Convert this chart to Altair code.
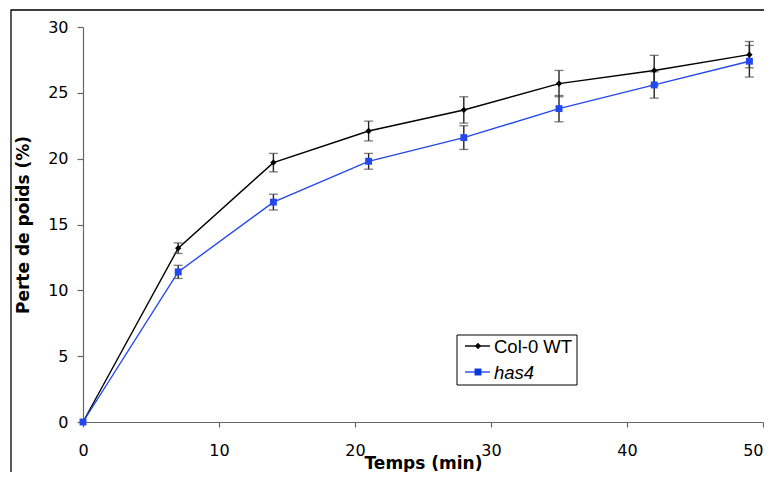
import altair as alt
import pandas as pd

time = [0, 7, 14, 21, 28, 35, 42, 49]
wt = [0, 13.2, 19.7, 22.1, 23.7, 25.7, 26.7, 27.9]
wt_err = [0, 0.4, 0.7, 0.75, 1.0, 1.0, 1.15, 1.0]
has4 = [0, 11.4, 16.7, 19.8, 21.6, 23.8, 25.6, 27.4]
has4_err = [0, 0.5, 0.6, 0.6, 0.9, 1.0, 1.0, 1.2]
series = ["Col-0 WT", "has4"]
colors = ["#000000", "#2448f0"]
marker_colors = ["#000000", "#0a36dc"]
shapes = ["diamond", "square"]

rows = []
for s, vals, errs in [(series[0], wt, wt_err), (series[1], has4, has4_err)]:
    for t, v, e in zip(time, vals, errs):
        rows.append({"t": t, "v": v, "lo": v - e, "hi": v + e, "s": s})
df = pd.DataFrame(rows)

W, H = 680, 395
xs = alt.Scale(domain=[0, 50], nice=False)
ys = alt.Scale(domain=[0, 30], nice=False)

base = alt.Chart(df)

x_axis = alt.Axis(values=[0, 10, 20, 30, 40, 50], title="Temps (min)", labelFontSize=16,
                  titleFontSize=17, titleFontWeight="bold", tickSize=5, labelPadding=15,
                  labelFlush=False,
                  labelAlign={"condition": {"test": "datum.value >= 50", "value": "right"},
                              "value": "center"},
                  titleBaseline="bottom", titleY=50,
                  labelFont="DejaVu Sans", titleFont="DejaVu Sans")
y_axis = alt.Axis(values=[0, 5, 10, 15, 20, 25, 30], title="Perte de poids (%)", labelFontSize=16,
                  titleFontSize=17, titleFontWeight="bold", tickSize=6, labelPadding=9,
                  titlePadding=15, labelFlush=False, labelFont="DejaVu Sans", titleFont="DejaVu Sans")

color_scale = alt.Scale(domain=series, range=colors)

lines = base.mark_line(strokeWidth=1.4).encode(
    x=alt.X("t:Q", scale=xs, axis=x_axis),
    y=alt.Y("v:Q", scale=ys, axis=y_axis),
    color=alt.Color("s:N", scale=color_scale, legend=None),
)

err = base.transform_filter("datum.t > 0")
rules = err.mark_rule(color="#222", strokeWidth=1.4).encode(
    x="t:Q", y="lo:Q", y2="hi:Q"
)
cap_lo = err.mark_tick(color="#444", orient="horizontal", size=9, thickness=1.3).encode(
    x="t:Q", y="lo:Q"
)
cap_hi = err.mark_tick(color="#444", orient="horizontal", size=9, thickness=1.3).encode(
    x="t:Q", y="hi:Q"
)

points = base.mark_point(filled=True, opacity=1).encode(
    x="t:Q", y="v:Q",
    color=alt.Color("s:N", scale=alt.Scale(domain=series, range=marker_colors), legend=None),
    shape=alt.Shape("s:N", scale=alt.Scale(domain=series, range=shapes), legend=None),
    size=alt.Size("s:N", scale=alt.Scale(domain=series, range=[40, 48]), legend=None),
)

# custom legend
one = pd.DataFrame({"a": [0]})
leg_box = alt.Chart(one).mark_rect(fill="white", stroke="black", strokeWidth=1).encode(
    x=alt.value(374), x2=alt.value(494), y=alt.value(308), y2=alt.value(358)
)
leg_layers = [leg_box]
for i, s in enumerate(series):
    yy = 319 + 26 * i
    leg_layers.append(alt.Chart(one).mark_rule(color=colors[i], strokeWidth=1.4).encode(
        x=alt.value(382), x2=alt.value(407), y=alt.value(yy)))
    leg_layers.append(alt.Chart(one).mark_point(filled=True, opacity=1, color=marker_colors[i],
                                                shape=shapes[i], size=[40, 48][i]).encode(
        x=alt.value(395), y=alt.value(yy)))
    leg_layers.append(alt.Chart(pd.DataFrame({"label": [s]})).mark_text(
        align="left", baseline="middle", font="Liberation Sans", fontSize=18.5,
        fontStyle="italic" if i == 1 else "normal", color="black").encode(
        x=alt.value(411), y=alt.value(yy + 1), text="label:N"))

frame = alt.Chart(one).mark_rect(fill=None, stroke="black", strokeWidth=1.3).encode(
    x=alt.value(-72), x2=alt.value(900), y=alt.value(-17), y2=alt.value(700)
)

chart = alt.layer(frame, lines, rules, cap_lo, cap_hi, points, *leg_layers).properties(
    width=W, height=H,
    padding={"left": 75, "top": 19, "right": 1, "bottom": 50},
    autosize=alt.AutoSizeParams(type="none"),
).configure_view(stroke=None).configure_axis(
    grid=False, domainColor="#666", tickColor="#666", labelColor="black", titleColor="black",
    domainWidth=1.2, tickWidth=1.2
)

chart.save("out.html", embed_options={"renderer": "svg", "actions": False})
